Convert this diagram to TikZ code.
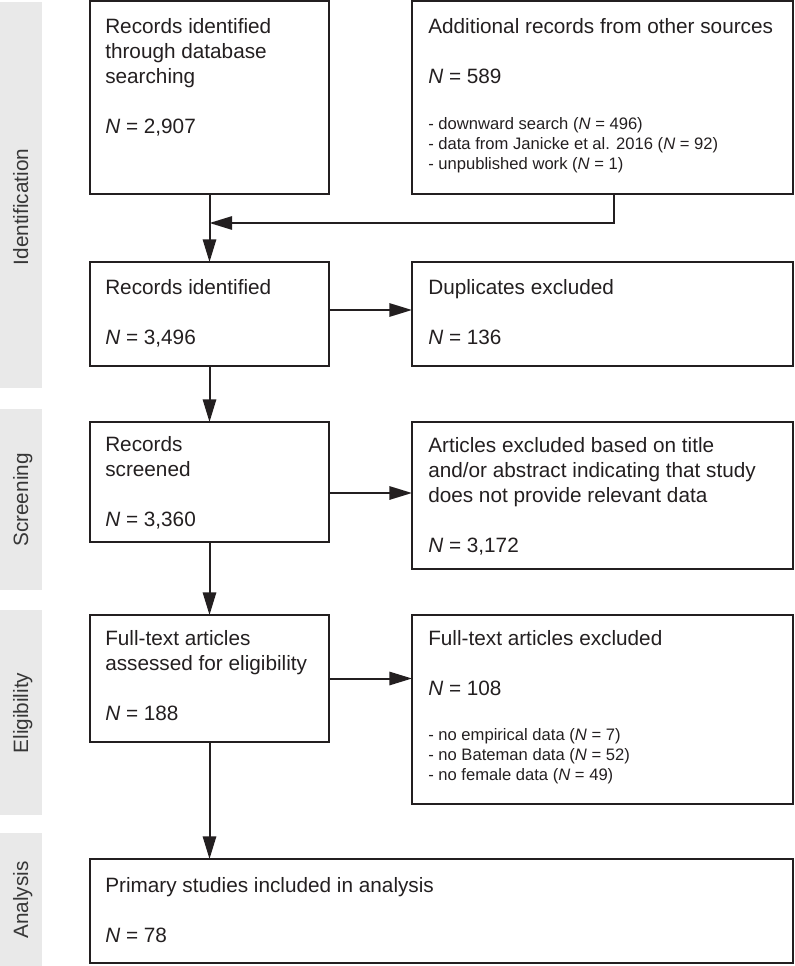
\documentclass[tikz,border=0pt]{standalone}
\usepackage{fontspec}
\setmainfont{Liberation Sans}
\usetikzlibrary{arrows.meta}
\definecolor{ink}{RGB}{35,31,32}
\definecolor{bandfill}{RGB}{233,233,233}
\definecolor{bandtext}{RGB}{55,55,55}
\begin{document}
\begin{tikzpicture}[x=0.75pt,y=-0.75pt,
  box/.style={draw=ink,line width=1.5pt,rectangle,inner sep=0pt,outer sep=0pt,anchor=north west},
  txt/.style={anchor=north west,inner sep=0pt,align=left,text=ink,font=\fontsize{15.56}{18.75}\selectfont},
  smalltxt/.style={anchor=north west,inner sep=0pt,align=left,text=ink,font=\fontsize{12.45}{15}\selectfont},
  arr/.style={draw=ink,line width=1.5pt,-{Triangle[length=17pt,width=10pt]}},
  plain/.style={draw=ink,line width=1.5pt},
  bandlab/.style={rotate=90,anchor=base,text=bandtext,inner sep=0pt,font=\fontsize{15.56}{18.75}\selectfont}]
\useasboundingbox (0,0) rectangle (794,966);
% phase bands
\fill[bandfill] (0,2) rectangle (42,388);
\fill[bandfill] (0,409) rectangle (42,590);
\fill[bandfill] (0,610) rectangle (42,815);
\fill[bandfill] (0,833) rectangle (42,966);
\node[bandlab] (lid) at (28,207) {Identification};
\node[bandlab] (lsc) at (28,500) {Screening};
\node[bandlab] (lel) at (28,713) {Eligibility};
\node[bandlab] (lan) at (28,900) {Analysis};
% boxes
\node[box,minimum width=179.25pt,minimum height=144.6pt] (b1) at (90,1.2) {};
\node[box,minimum width=285.6pt,minimum height=144.6pt] (r1) at (412,1.2) {};
\node[box,minimum width=179.25pt,minimum height=78pt] (b2) at (90,262) {};
\node[box,minimum width=285.6pt,minimum height=78pt] (r2) at (412,262) {};
\node[box,minimum width=179.25pt,minimum height=90pt] (b3) at (90,422) {};
\node[box,minimum width=285.6pt,minimum height=110.25pt] (r3) at (412,422) {};
\node[box,minimum width=179.25pt,minimum height=95.25pt] (b4) at (90,615) {};
\node[box,minimum width=285.6pt,minimum height=141.75pt] (r4) at (412,615) {};
\node[box,minimum width=527.1pt,minimum height=78pt] (b5) at (90,859) {};
% texts
\node[txt] (t1) at (105,15.5) {\strut Records identified\\through database\\searching\\[18.75pt]\textit{N} = 2,907};
\node[txt] (tr1) at (428,15.5) {\strut Additional records from other sources\\[18.75pt]\textit{N} = 589};
\node[smalltxt] (lr1) at (428,115) {\strut - downward search (\textit{N} = 496)\\- data from Janicke et al. 2016 (\textit{N} = 92)\\- unpublished work (\textit{N} = 1)};
\node[txt] (t2) at (105,276.5) {\strut Records identified\\[18.75pt]\textit{N} = 3,496};
\node[txt] (tr2) at (428,276.5) {\strut Duplicates excluded\\[18.75pt]\textit{N} = 136};
\node[txt] (t3) at (105,433.5) {\strut Records\\screened\\[18.75pt]\textit{N} = 3,360};
\node[txt] (tr3) at (428,434.5) {\strut Articles excluded based on title\\and/or abstract indicating that study\\does not provide relevant data\\[18.75pt]\textit{N} = 3,172};
\node[txt] (t4) at (105,627.5) {\strut Full-text articles\\assessed for eligibility\\[18.75pt]\textit{N} = 188};
\node[txt] (tr4) at (428,627.5) {\strut Full-text articles excluded\\[18.75pt]\textit{N} = 108};
\node[smalltxt] (lr4) at (428,726) {\strut - no empirical data (\textit{N} = 7)\\- no Bateman data (\textit{N} = 52)\\- no female data (\textit{N} = 49)};
\node[txt] (t5) at (105,874.5) {\strut Primary studies included in analysis\\[18.75pt]\textit{N} = 78};
% connectors
\coordinate (mr) at (614,223);
\coordinate (ml) at (b1.south |- mr);
\coordinate (y310) at (0,310);
\coordinate (y493) at (0,493);
\draw[arr] (b1.south) -- (b2.north);
\draw[arr] (r1.south -| mr) -- (mr) -- (ml);
\draw[arr] (b2.east |- y310) -- (r2.west |- y310);
\draw[arr] (b2.south) -- (b3.north);
\draw[arr] (b3.east |- y493) -- (r3.west |- y493);
\draw[arr] (b3.south) -- (b4.north);
\draw[arr] (b4.east) -- (r4.west |- b4.east);
\draw[arr] (b4.south) -- (b5.north -| b4.south);
\end{tikzpicture}
\end{document}
